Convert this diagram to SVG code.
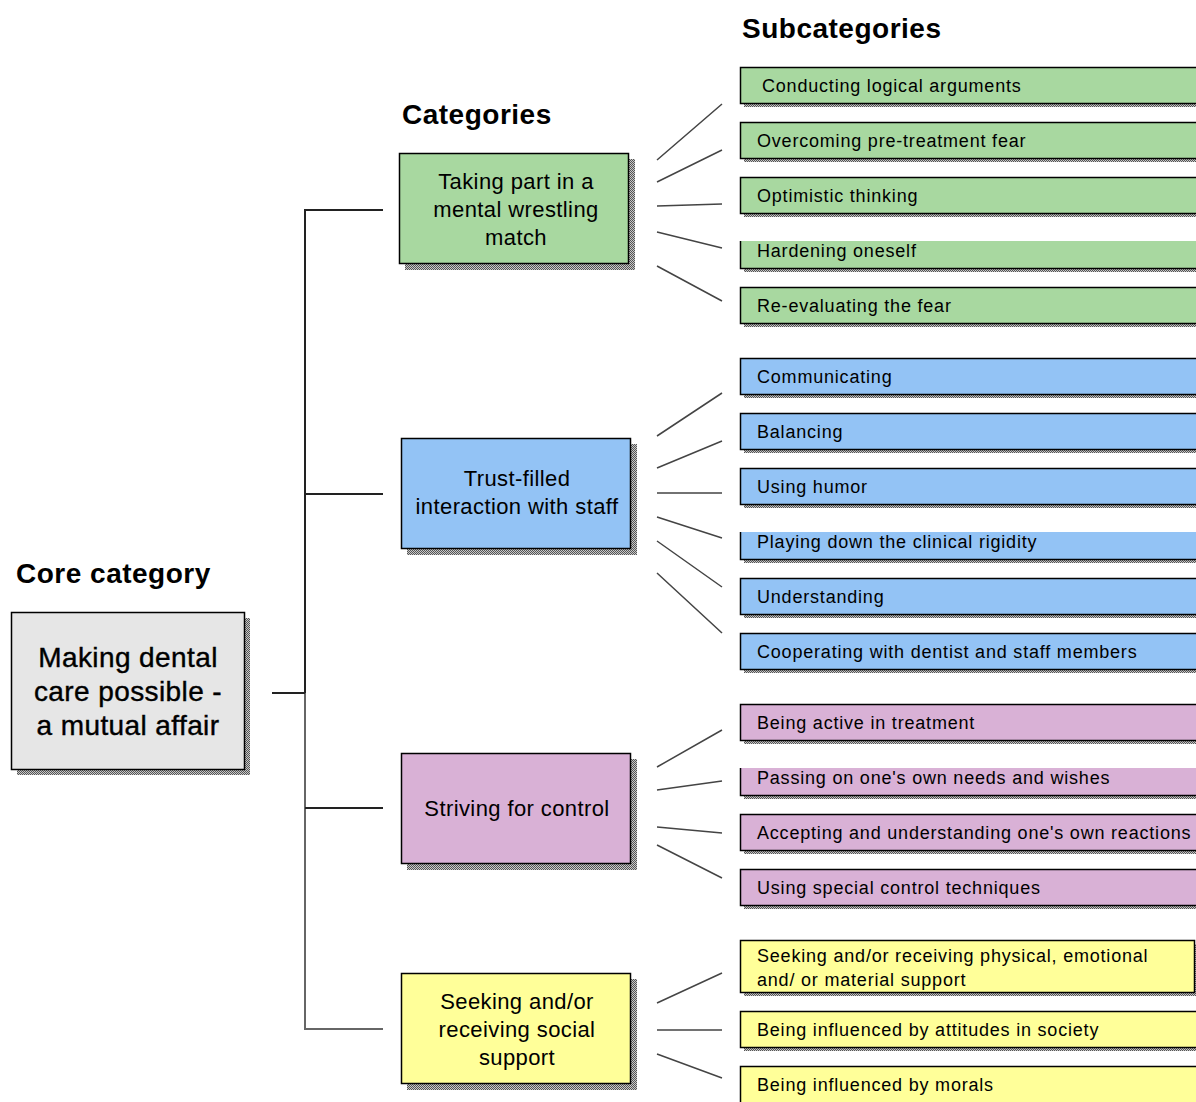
<svg xmlns="http://www.w3.org/2000/svg" width="1196" height="1102" viewBox="0 0 1196 1102">
<defs>
<pattern id="dots" width="2" height="2" patternUnits="userSpaceOnUse">
<rect width="2" height="2" fill="#c8c8c8"/>
<rect width="1" height="1" fill="#555"/>
<rect x="1" y="1" width="1" height="1" fill="#555"/>
</pattern>
</defs>
<style>
.h{font-family:"Liberation Sans",Arial,sans-serif;font-weight:bold;font-size:28px;fill:#000;letter-spacing:0.5px}
.core{font-family:"Liberation Sans",Arial,sans-serif;font-size:28px;fill:#000;text-anchor:middle;letter-spacing:0.4px;stroke:#000;stroke-width:0.4}
.cat{font-family:"Liberation Sans",Arial,sans-serif;font-size:22px;fill:#000;text-anchor:middle;letter-spacing:0.4px}
.sub{font-family:"Liberation Sans",Arial,sans-serif;font-size:18px;fill:#000;letter-spacing:0.8px}
.box{stroke:#000;stroke-width:1.5}
.sh{fill:url(#dots)}
.g{fill:#a8d8a0}.b{fill:#93c3f5}.p{fill:#d9b1d6}.y{fill:#ffff99}
.ln{stroke:#444;stroke-width:1.5;fill:none}
.br{stroke:#222;stroke-width:2;fill:none}
.br2{stroke:#666;stroke-width:2;fill:none}
</style>
<rect width="1196" height="1102" fill="#fff"/>
<text class="h" x="742" y="38">Subcategories</text>
<text class="h" x="402" y="124">Categories</text>
<text class="h" x="16" y="583">Core category</text>

<g id="connectors">
<path class="br" d="M383,210 H305 V693"/>
<path class="br2" d="M305,693 V1029 H383"/>
<path class="br" d="M305,494 H383 M305,808 H383"/>
<path class="br" d="M272,693 H305" stroke="#555" stroke-width="3"/>
<path class="ln" d="M657,160 L722,104 M657,182 L722,150 M657,206 L722,204 M657,232 L722,248 M657,266 L722,301"/>
<path class="ln" d="M657,436 L722,393 M657,468 L722,441 M657,493 L722,493 M657,517 L722,538 M657,541 L722,587 M657,573 L722,633"/>
<path class="ln" d="M657,767 L722,730 M657,790 L722,781 M657,827 L722,833 M657,845 L722,878"/>
<path class="ln" d="M657,1003 L722,973 M657,1030 L722,1030 M657,1054 L722,1078"/>
</g>

<g id="core">
<rect class="sh" x="17" y="618" width="233" height="157"/>
<rect class="box" x="11.5" y="612.5" width="233" height="157" fill="#e6e6e6"/>
<text class="core" x="128" y="667">Making dental</text>
<text class="core" x="128" y="701">care possible -</text>
<text class="core" x="128" y="735">a mutual affair</text>
</g>

<g id="cat-wrestling">
<rect class="sh" x="405" y="159" width="230" height="111"/>
<rect class="box g" x="399.5" y="153.5" width="229" height="110"/>
<text class="cat" x="516" y="189">Taking part in a</text>
<text class="cat" x="516" y="217">mental wrestling</text>
<text class="cat" x="516" y="245">match</text>
</g>
<g id="cat-trust">
<rect class="sh" x="407" y="444" width="230" height="111"/>
<rect class="box b" x="401.5" y="438.5" width="229" height="110"/>
<text class="cat" x="517" y="486">Trust-filled</text>
<text class="cat" x="517" y="514">interaction with staff</text>
</g>
<g id="cat-control">
<rect class="sh" x="407" y="759" width="230" height="111"/>
<rect class="box p" x="401.5" y="753.5" width="229" height="110"/>
<text class="cat" x="517" y="816">Striving for control</text>
</g>
<g id="cat-social">
<rect class="sh" x="407" y="979" width="230" height="111"/>
<rect class="box y" x="401.5" y="973.5" width="229" height="110"/>
<text class="cat" x="517" y="1009">Seeking and/or</text>
<text class="cat" x="517" y="1037">receiving social</text>
<text class="cat" x="517" y="1065">support</text>
</g>

<g id="sub-1"><rect class="sh" x="744" y="71" width="460" height="36"/><rect class="box g" x="740.5" y="67.5" width="470" height="36"/><text class="sub" x="762" y="92">Conducting logical arguments</text></g>
<g id="sub-2"><rect class="sh" x="744" y="126" width="460" height="36"/><rect class="box g" x="740.5" y="122.5" width="470" height="36"/><text class="sub" x="757" y="147">Overcoming pre-treatment fear</text></g>
<g id="sub-3"><rect class="sh" x="744" y="181" width="460" height="36"/><rect class="box g" x="740.5" y="177.5" width="470" height="36"/><text class="sub" x="757" y="202">Optimistic thinking</text></g>
<g id="sub-4"><rect class="sh" x="744" y="245" width="460" height="27"/><rect class="g" x="740" y="241" width="470" height="27"/><path class="box" fill="none" d="M740.5,241 V268.5 H1210"/><text class="sub" x="757" y="257">Hardening oneself</text></g>
<g id="sub-5"><rect class="sh" x="744" y="291" width="460" height="36"/><rect class="box g" x="740.5" y="287.5" width="470" height="36"/><text class="sub" x="757" y="312">Re-evaluating the fear</text></g>

<g id="sub-6"><rect class="sh" x="744" y="362" width="460" height="36"/><rect class="box b" x="740.5" y="358.5" width="470" height="36"/><text class="sub" x="757" y="383">Communicating</text></g>
<g id="sub-7"><rect class="sh" x="744" y="417" width="460" height="36"/><rect class="box b" x="740.5" y="413.5" width="470" height="36"/><text class="sub" x="757" y="438">Balancing</text></g>
<g id="sub-8"><rect class="sh" x="744" y="472" width="460" height="36"/><rect class="box b" x="740.5" y="468.5" width="470" height="36"/><text class="sub" x="757" y="493">Using humor</text></g>
<g id="sub-9"><rect class="sh" x="744" y="536" width="460" height="27"/><rect class="b" x="740" y="532" width="470" height="27"/><path class="box" fill="none" d="M740.5,532 V559.5 H1210"/><text class="sub" x="757" y="548">Playing down the clinical rigidity</text></g>
<g id="sub-10"><rect class="sh" x="744" y="582" width="460" height="36"/><rect class="box b" x="740.5" y="578.5" width="470" height="36"/><text class="sub" x="757" y="603">Understanding</text></g>
<g id="sub-11"><rect class="sh" x="744" y="637" width="460" height="36"/><rect class="box b" x="740.5" y="633.5" width="470" height="36"/><text class="sub" x="757" y="658">Cooperating with dentist and staff members</text></g>

<g id="sub-12"><rect class="sh" x="744" y="708" width="460" height="36"/><rect class="box p" x="740.5" y="704.5" width="470" height="36"/><text class="sub" x="757" y="729">Being active in treatment</text></g>
<g id="sub-13"><rect class="sh" x="744" y="772" width="460" height="27"/><rect class="p" x="740" y="768" width="470" height="27"/><path class="box" fill="none" d="M740.5,768 V795.5 H1210"/><text class="sub" x="757" y="784">Passing on one's own needs and wishes</text></g>
<g id="sub-14"><rect class="sh" x="744" y="818" width="460" height="36"/><rect class="box p" x="740.5" y="814.5" width="470" height="36"/><text class="sub" x="757" y="839">Accepting and understanding one's own reactions</text></g>
<g id="sub-15"><rect class="sh" x="744" y="873" width="460" height="36"/><rect class="box p" x="740.5" y="869.5" width="470" height="36"/><text class="sub" x="757" y="894">Using special control techniques</text></g>

<g id="sub-16"><rect class="sh" x="744" y="944" width="454" height="52"/><rect class="box y" x="740.5" y="940.5" width="454" height="52"/><text class="sub" x="757" y="962">Seeking and/or receiving physical, emotional</text><text class="sub" x="757" y="986">and/ or material support</text></g>
<g id="sub-17"><rect class="sh" x="744" y="1015" width="460" height="36"/><rect class="box y" x="740.5" y="1011.5" width="470" height="36"/><text class="sub" x="757" y="1036">Being influenced by attitudes in society</text></g>
<g id="sub-18"><rect class="box y" x="740.5" y="1066.5" width="470" height="40"/><text class="sub" x="757" y="1091">Being influenced by morals</text></g>
</svg>
